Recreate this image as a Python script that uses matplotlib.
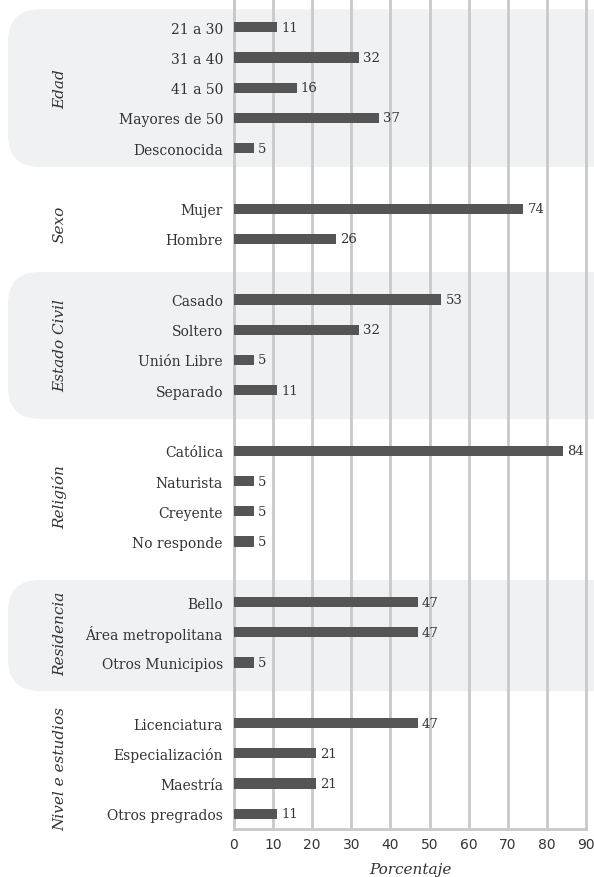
import matplotlib.pyplot as plt
from matplotlib.patches import FancyBboxPatch
import numpy as np

# datos por grupo
grupos = ["Edad", "Sexo", "Estado Civil", "Religión", "Residencia", "Nivel e estudios"]
edad = ["21 a 30", "31 a 40", "41 a 50", "Mayores de 50", "Desconocida"]
edad_val = [11, 32, 16, 37, 5]
sexo = ["Mujer", "Hombre"]
sexo_val = [74, 26]
civil = ["Casado", "Soltero", "Unión Libre", "Separado"]
civil_val = [53, 32, 5, 11]
religion = ["Católica", "Naturista", "Creyente", "No responde"]
religion_val = [84, 5, 5, 5]
residencia = ["Bello", "Área metropolitana", "Otros Municipios"]
residencia_val = [47, 47, 5]
nivel = ["Licenciatura", "Especialización", "Maestría", "Otros pregrados"]
nivel_val = [47, 21, 21, 11]

cats = [edad, sexo, civil, religion, residencia, nivel]
vals = [edad_val, sexo_val, civil_val, religion_val, residencia_val, nivel_val]
sombreado = [True, False, True, False, True, False]

W, H = 594, 878
fig = plt.figure(figsize=(W/100, H/100), dpi=100)
ax = fig.add_axes([234/W, 48/H, 352/W, 830/H])
ax.patch.set_alpha(0)

pos = 0
ys, labels, values, centros, rangos = [], [], [], [], []
for c, v in zip(cats, vals):
    p = list(range(pos, pos + len(c)))
    ys += p
    labels += c
    values += v
    centros.append(np.mean(p))
    rangos.append((p[0], p[-1]))
    pos += len(c) + 1

bar_col = "#555555"
ax.barh(ys, values, height=0.34, color=bar_col, zorder=3)
for y, v in zip(ys, values):
    ax.annotate(str(v), (v, y), xytext=(3, 0), textcoords="offset points",
                va="center", ha="left", fontsize=9.5, color="#333333",
                family="DejaVu Serif", zorder=4)

ax.set_xlim(0, 90)
ax.set_ylim(26.5, -0.93)
ax.set_xticks(np.arange(0, 91, 10))
ax.set_yticks(ys)
ax.set_yticklabels(labels, family="DejaVu Serif", fontsize=10, color="#333333")
ax.tick_params(axis="y", length=0, pad=8)
ax.tick_params(axis="x", length=0, pad=6, labelsize=10, labelcolor="#333333")
ax.grid(axis="x", color="#c9c9c9", linewidth=2, zorder=1)
for gl in ax.get_xgridlines():
    gl.set_clip_on(False)
ax.set_axisbelow(True)
for s in ["top", "right"]:
    ax.spines[s].set_visible(False)
for s in ["left", "bottom"]:
    ax.spines[s].set_color("#c9c9c9")
    ax.spines[s].set_linewidth(2)
ax.set_xlabel("Porcentaje", style="italic", fontsize=11, color="#333333",
              family="DejaVu Serif", labelpad=8)

# cajas grises de fondo
extra = {0: (-0.59, 0.62), 2: (-0.91, 0.95), 4: (-0.73, 0.94)}
for i, (a, b) in enumerate(rangos):
    if sombreado[i]:
        d0, d1 = extra[i]
        y_top = ax.transData.transform((0, a + d0))[1]
        y_bot = ax.transData.transform((0, b + d1))[1]
        box = FancyBboxPatch((8/100, y_bot/100), 640/100, (y_top - y_bot)/100,
                             boxstyle="round,pad=0,rounding_size=0.32",
                             transform=fig.dpi_scale_trans, facecolor="#f0f1f3",
                             edgecolor="none", zorder=-5)
        fig.patches.append(box)

for g, c in zip(grupos, centros):
    yy = ax.transData.transform((0, c))[1] / H
    fig.text(60/W, yy, g, rotation=90, ha="center", va="center", style="italic",
             fontsize=11, color="#333333", family="DejaVu Serif")

fig.savefig("out.png", dpi=100)
